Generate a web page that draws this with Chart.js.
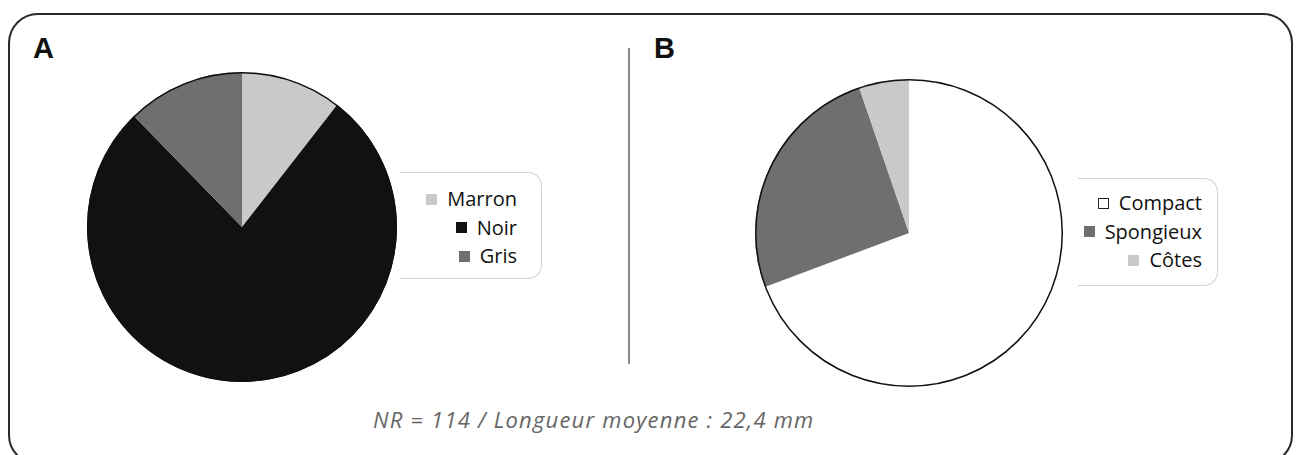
<!DOCTYPE html>
<html>
<head>
<meta charset="utf-8">
<script src="https://cdn.jsdelivr.net/npm/chart.js@4/dist/chart.umd.min.js"></script>
<style>
  html, body { margin: 0; padding: 0; background: #fff; }
  body { width: 1301px; height: 455px; position: relative; overflow: hidden; font-family: "Open Sans", "Noto Sans", sans-serif; }
  .frame { position: absolute; left: 8px; top: 13px; width: 1285px; height: 452px; border: 2px solid #2a2a2a; border-radius: 30px; box-sizing: border-box; }
  .divider { position: absolute; left: 628px; top: 48px; width: 2px; height: 316px; background: #8a8a8a; }
  .panel-label { position: absolute; font-family: "Liberation Sans", Arial, sans-serif; font-weight: bold; font-size: 29px; color: #111; line-height: 1; }
  .chartbox { position: absolute; }
  .legend { position: absolute; border: 1px solid #d2d2d2; border-left: none; border-radius: 0 14px 14px 0; box-sizing: border-box; }
  .legend .item { position: absolute; right: 0; display: flex; align-items: center; font-size: 20px; color: #111; line-height: 1; white-space: nowrap; }
  .legend .sw { width: 11px; height: 11px; margin-right: 10px; box-sizing: border-box; }
  .caption { position: absolute; left: 373px; top: 404px; font-style: italic; font-size: 22px; letter-spacing: 1.2px; color: #666; white-space: nowrap; }
</style>
</head>
<body>
<div class="frame"></div>
<div class="divider"></div>
<div class="panel-label" style="left:33px; top:34px;">A</div>
<div class="panel-label" style="left:654px; top:34px;">B</div>

<div class="chartbox" style="left:87px; top:72px; width:310px; height:310px;"><canvas id="pieA"></canvas></div>
<div class="chartbox" style="left:755px; top:79px; width:308px; height:308px;"><canvas id="pieB"></canvas></div>

<div class="legend" id="legendA" style="left:400px; top:172px; width:142px; height:107px;"></div>
<div class="legend" id="legendB" style="left:1078px; top:178px; width:140px; height:108px;"></div>

<div class="caption">NR = 114 / Longueur moyenne : 22,4 mm</div>

<script>
// Panel A: couleur
const labelsA = ["Marron", "Noir", "Gris"];
const valuesA = [12, 88, 14];
const colorsA = ["#c9c9c9", "#111111", "#6f6f6f"];

// Panel B: type de tissu
const labelsB = ["Compact", "Spongieux", "Côtes"];
const valuesB = [79, 29, 6];
const colorsB = ["#ffffff", "#6f6f6f", "#c9c9c9"];

const outlinePlugin = {
  id: 'outline',
  afterDatasetsDraw(chart) {
    const arc = chart.getDatasetMeta(0).data[0];
    if (!arc) return;
    const ctx = chart.ctx;
    ctx.save();
    ctx.beginPath();
    ctx.arc(arc.x, arc.y, arc.outerRadius - 0.75, 0, Math.PI * 2);
    ctx.lineWidth = 1.5;
    ctx.strokeStyle = '#111';
    ctx.stroke();
    ctx.restore();
  }
};

function makePie(id, labels, values, colors) {
  return new Chart(document.getElementById(id), {
    type: 'pie',
    data: { labels: labels, datasets: [{ data: values, backgroundColor: colors, borderWidth: 0 }] },
    options: {
      responsive: true,
      maintainAspectRatio: false,
      animation: false,
      layout: { padding: 0 },
      plugins: { legend: { display: false }, tooltip: { enabled: false } }
    },
    plugins: [outlinePlugin]
  });
}

makePie('pieA', labelsA, valuesA, colorsA);
makePie('pieB', labelsB, valuesB, colorsB);

function makeLegend(id, labels, colors, rightPad, firstTop, step) {
  const el = document.getElementById(id);
  labels.forEach((lab, i) => {
    const item = document.createElement('div');
    item.className = 'item';
    item.style.right = rightPad + 'px';
    item.style.top = (firstTop + i * step) + 'px';
    const sw = document.createElement('span');
    sw.className = 'sw';
    sw.style.background = colors[i];
    if (colors[i].toLowerCase() === '#ffffff') sw.style.border = '1.5px solid #222';
    const tx = document.createElement('span');
    tx.textContent = lab;
    item.appendChild(sw);
    item.appendChild(tx);
    el.appendChild(item);
  });
}
makeLegend('legendA', labelsA, colorsA, 24, 16, 28.5);
makeLegend('legendB', labelsB, colorsB, 15, 14, 28.5);
</script>
</body>
</html>
